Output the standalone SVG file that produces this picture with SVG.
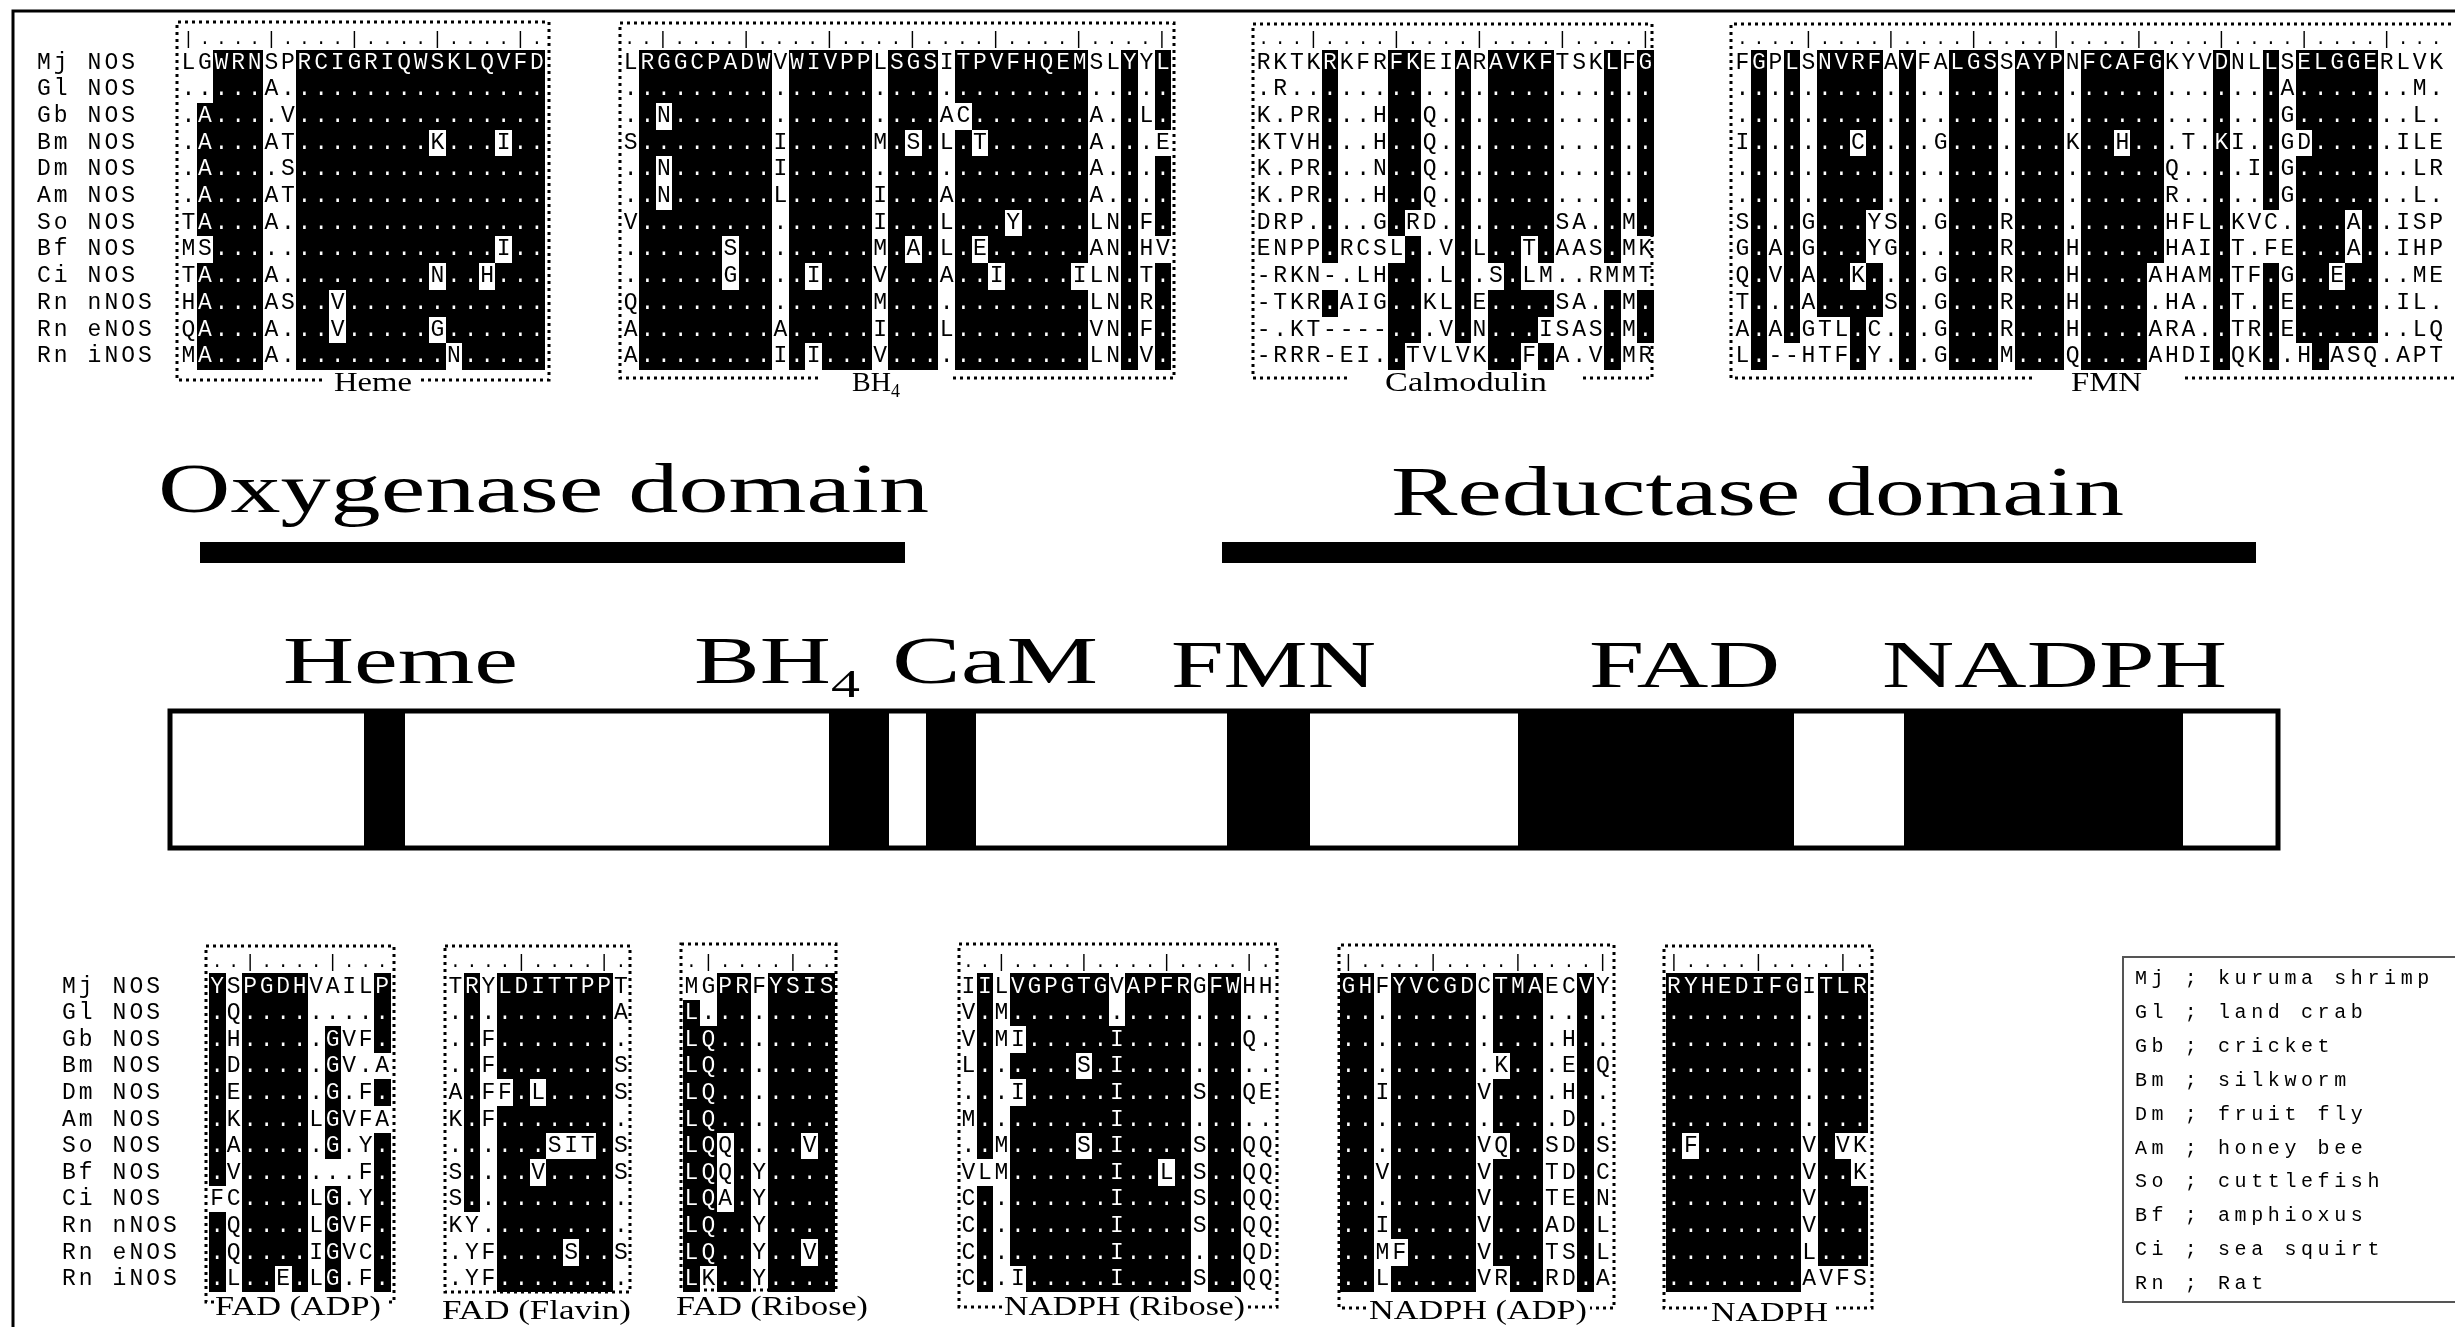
<svg xmlns="http://www.w3.org/2000/svg" width="2455" height="1327" viewBox="0 0 2455 1327">
<style>
.mono{font-family:"Liberation Mono","DejaVu Sans Mono",monospace;font-size:23px;fill:#000}
.rul{font-family:"Liberation Mono","DejaVu Sans Mono",monospace;font-size:18px;fill:#000}
.leg{font-family:"Liberation Mono","DejaVu Sans Mono",monospace;font-size:20px;fill:#000}
.serif{font-family:"Liberation Serif","DejaVu Serif",serif;fill:#000}
.dot{fill:none;stroke:#000;stroke-width:3;stroke-dasharray:3 4}
.inv rect{fill:#fff;mix-blend-mode:difference;shape-rendering:crispEdges}
.blk{fill:#000}
</style>
<rect x="0" y="0" width="2455" height="1327" fill="#fff"/>
<path d="M13,1327 V11 H2455" fill="none" stroke="#000" stroke-width="3"/>

<!-- species labels -->
<g id="labels-top">
<text class="mono" letter-spacing="3.05"><tspan x="37" y="68.5">Mj NOS</tspan><tspan x="37" y="95.2">Gl NOS</tspan><tspan x="37" y="121.9">Gb NOS</tspan><tspan x="37" y="148.6">Bm NOS</tspan><tspan x="37" y="175.3">Dm NOS</tspan><tspan x="37" y="202">Am NOS</tspan><tspan x="37" y="228.7">So NOS</tspan><tspan x="37" y="255.4">Bf NOS</tspan><tspan x="37" y="282.1">Ci NOS</tspan><tspan x="37" y="308.8">Rn nNOS</tspan><tspan x="37" y="335.5">Rn eNOS</tspan><tspan x="37" y="362.2">Rn iNOS</tspan></text>
</g>
<g id="labels-bottom">
<text class="mono" letter-spacing="3.05"><tspan x="62" y="992.5">Mj NOS</tspan><tspan x="62" y="1019.1">Gl NOS</tspan><tspan x="62" y="1045.7">Gb NOS</tspan><tspan x="62" y="1072.3">Bm NOS</tspan><tspan x="62" y="1098.9">Dm NOS</tspan><tspan x="62" y="1125.5">Am NOS</tspan><tspan x="62" y="1152.1">So NOS</tspan><tspan x="62" y="1178.7">Bf NOS</tspan><tspan x="62" y="1205.3">Ci NOS</tspan><tspan x="62" y="1231.9">Rn nNOS</tspan><tspan x="62" y="1258.5">Rn eNOS</tspan><tspan x="62" y="1285.1">Rn iNOS</tspan></text>
</g>

<!-- Heme block -->
<g id="blk-heme">
<text class="rul" x="182.9" y="44" letter-spacing="5.8">|....|....|....|....|.</text>
<text class="mono" letter-spacing="2.8"><tspan x="181.4" y="68.5">LGWRNSPRCIGRIQWSKLQVFD</tspan><tspan x="181.4" y="95.2">.....A................</tspan><tspan x="181.4" y="121.9">.A....V...............</tspan><tspan x="181.4" y="148.6">.A...AT........K...I..</tspan><tspan x="181.4" y="175.3">.A....S...............</tspan><tspan x="181.4" y="202">.A...AT...............</tspan><tspan x="181.4" y="228.7">TA...A................</tspan><tspan x="181.4" y="255.4">MS.................I..</tspan><tspan x="181.4" y="282.1">TA...A.........N..H...</tspan><tspan x="181.4" y="308.8">HA...AS..V............</tspan><tspan x="181.4" y="335.5">QA...A...V.....G......</tspan><tspan x="181.4" y="362.2">MA...A..........N.....</tspan></text>
<g class="inv" transform="translate(180,49.5) scale(16.6,26.7)">
<rect x="2" y="0" width="3" height="12"/><rect x="1" y="2" width="1" height="5"/><rect x="1" y="8" width="1" height="4"/><rect x="7" y="0" width="15" height="12"/>
<rect x="15" y="3" width="1" height="1"/><rect x="19" y="3" width="1" height="1"/><rect x="19" y="7" width="1" height="1"/><rect x="15" y="8" width="1" height="1"/><rect x="18" y="8" width="1" height="1"/><rect x="9" y="9" width="1" height="1"/><rect x="9" y="10" width="1" height="1"/><rect x="15" y="10" width="1" height="1"/><rect x="16" y="11" width="1" height="1"/>
</g>
<path class="dot" d="M322,380 H177 V22 H549 V380 H421"/>
<text class="serif" x="334" y="391" font-size="28" textLength="78" lengthAdjust="spacingAndGlyphs">Heme</text>
</g>

<!-- BH4 block -->
<g id="blk-bh4">
<text class="rul" x="624.3" y="44" letter-spacing="5.83">..|....|....|....|....|....|....|</text>
<text class="mono" letter-spacing="2.83"><tspan x="623.8" y="68.5">LRGGCPADWVWIVPPLSGSITPVFHQEMSLYYL</tspan><tspan x="623.8" y="95.2">.................................</tspan><tspan x="623.8" y="121.9">..N................AC.......A..L.</tspan><tspan x="623.8" y="148.6">S........I.....M.S.L.T......A...E</tspan><tspan x="623.8" y="175.3">..N......I..................A....</tspan><tspan x="623.8" y="202">..N......L.....I...A........A....</tspan><tspan x="623.8" y="228.7">V..............I...L...Y....LN.F.</tspan><tspan x="623.8" y="255.4">......S........M.A.L.E......AN.HV</tspan><tspan x="623.8" y="282.1">......G....I...V...A..I....ILN.T.</tspan><tspan x="623.8" y="308.8">Q..............M............LN.R.</tspan><tspan x="623.8" y="335.5">A........A.....I...L........VN.F.</tspan><tspan x="623.8" y="362.2">A........I.I...V............LN.V.</tspan></text>
<g class="inv" transform="translate(622.4,49.5) scale(16.63,26.7)">
<rect x="1" y="0" width="8" height="12"/><rect x="2" y="2" width="1" height="1"/><rect x="2" y="4" width="1" height="2"/><rect x="6" y="7" width="1" height="2"/>
<rect x="10" y="0" width="5" height="12"/><rect x="11" y="8" width="1" height="1"/><rect x="11" y="11" width="1" height="1"/>
<rect x="16" y="0" width="3" height="12"/><rect x="17" y="3" width="1" height="1"/><rect x="17" y="7" width="1" height="1"/>
<rect x="20" y="0" width="8" height="12"/><rect x="20" y="2" width="1" height="1"/><rect x="21" y="3" width="1" height="1"/><rect x="23" y="6" width="1" height="1"/><rect x="21" y="7" width="1" height="1"/><rect x="22" y="8" width="1" height="1"/><rect x="27" y="8" width="1" height="1"/>
<rect x="30" y="0" width="1" height="12"/>
<rect x="32" y="0" width="1" height="3"/><rect x="32" y="4" width="1" height="3"/><rect x="32" y="8" width="1" height="4"/>
</g>
<path class="dot" d="M818,378 H620 V23 H1174 V378 H950"/>
<text class="serif" x="852" y="391" font-size="28">BH<tspan font-size="18" dy="6">4</tspan></text>
</g>

<!-- Calmodulin block -->
<g id="blk-cam">
<text class="rul" x="1258.2" y="44" letter-spacing="5.8">...|....|....|....|....|</text>
<text class="mono" letter-spacing="2.8"><tspan x="1256.7" y="68.5">RKTKRKFRFKEIARAVKFTSKLFG</tspan><tspan x="1256.7" y="95.2">.R......................</tspan><tspan x="1256.7" y="121.9">K.PR...H..Q.............</tspan><tspan x="1256.7" y="148.6">KTVH...H..Q.............</tspan><tspan x="1256.7" y="175.3">K.PR...N..Q.............</tspan><tspan x="1256.7" y="202">K.PR...H..Q.............</tspan><tspan x="1256.7" y="228.7">DRP....G.RD.......SA..M.</tspan><tspan x="1256.7" y="255.4">ENPP.RCSL..V.L..T.AAS.MK</tspan><tspan x="1256.7" y="282.1">-RKN-.LH...L..S.LM..RMMT</tspan><tspan x="1256.7" y="308.8">-TKR.AIG..KL.E....SA..M.</tspan><tspan x="1256.7" y="335.5">-.KT----...V.N...ISAS.M.</tspan><tspan x="1256.7" y="362.2">-RRR-EI..TVLVK..F.A.V.MR</tspan></text>
<g class="inv" transform="translate(1255.3,49.5) scale(16.6,26.7)">
<rect x="4" y="0" width="1" height="8"/><rect x="4" y="9" width="1" height="1"/>
<rect x="8" y="0" width="1" height="7"/><rect x="8" y="8" width="1" height="4"/>
<rect x="9" y="0" width="1" height="6"/><rect x="9" y="7" width="1" height="4"/>
<rect x="12" y="0" width="1" height="11"/>
<rect x="14" y="0" width="4" height="7"/><rect x="14" y="7" width="2" height="1"/><rect x="17" y="7" width="1" height="1"/><rect x="15" y="8" width="1" height="1"/><rect x="14" y="9" width="4" height="1"/><rect x="14" y="10" width="3" height="1"/><rect x="14" y="11" width="2" height="1"/><rect x="17" y="11" width="1" height="1"/>
<rect x="21" y="0" width="1" height="8"/><rect x="21" y="9" width="1" height="3"/>
<rect x="23" y="0" width="1" height="7"/><rect x="23" y="9" width="1" height="2"/>
</g>
<path class="dot" d="M1347,378 H1253 V24 H1652 V378 H1583"/>
<text class="serif" x="1385" y="391" font-size="28" textLength="162" lengthAdjust="spacingAndGlyphs">Calmodulin</text>
</g>

<!-- FMN block -->
<g id="blk-fmn">
<text class="rul" x="1736.9" y="44" letter-spacing="5.72">....|....|....|....|....|....|....|....|...</text>
<text class="mono" letter-spacing="2.72"><tspan x="1735.4" y="68.5">FGPLSNVRFAVFALGSSAYPNFCAFGKYVDNLLSELGGERLVK</tspan><tspan x="1735.4" y="95.2">.................................A.......M.</tspan><tspan x="1735.4" y="121.9">.................................G.......L.</tspan><tspan x="1735.4" y="148.6">I......C....G.......K..H...T.KI..GD.....ILE</tspan><tspan x="1735.4" y="175.3">..........................Q....I.G.......LR</tspan><tspan x="1735.4" y="202">..........................R......G.......L.</tspan><tspan x="1735.4" y="228.7">S...G...YS..G...R.........HFL.KVC....A..ISP</tspan><tspan x="1735.4" y="255.4">G.A.G...YG......R...H.....HAI.T.FE...A..IHP</tspan><tspan x="1735.4" y="282.1">Q.V.A..K....G...R...H....AHAM.TF.G..E....ME</tspan><tspan x="1735.4" y="308.8">T...A....S..G...R...H.....HA..T..E......IL.</tspan><tspan x="1735.4" y="335.5">A.A.GTL.C...G...R...H....ARA..TR.E.......LQ</tspan><tspan x="1735.4" y="362.2">L.--HTF.Y...G...M...Q....AHDI.QK..H.ASQ.APT</tspan></text>
<g class="inv" transform="translate(1734,49.5) scale(16.52,26.7)">
<rect x="1" y="0" width="1" height="12"/><rect x="3" y="0" width="1" height="11"/>
<rect x="5" y="0" width="4" height="6"/><rect x="7" y="3" width="1" height="1"/><rect x="5" y="6" width="3" height="2"/><rect x="5" y="8" width="2" height="1"/><rect x="8" y="8" width="1" height="1"/><rect x="5" y="9" width="4" height="1"/><rect x="7" y="10" width="1" height="2"/>
<rect x="10" y="0" width="1" height="12"/><rect x="13" y="0" width="3" height="12"/><rect x="17" y="0" width="3" height="12"/>
<rect x="21" y="0" width="5" height="8"/><rect x="23" y="3" width="1" height="1"/><rect x="21" y="8" width="4" height="4"/>
<rect x="29" y="0" width="1" height="12"/>
<rect x="32" y="0" width="1" height="6"/><rect x="32" y="8" width="1" height="4"/>
<rect x="34" y="0" width="5" height="12"/><rect x="34" y="3" width="1" height="1"/><rect x="37" y="6" width="1" height="2"/><rect x="36" y="8" width="1" height="1"/><rect x="34" y="11" width="1" height="1"/><rect x="36" y="11" width="3" height="1"/>
</g>
<path class="dot" d="M2032,378 H1731 V24 H2470 V378 H2182"/>
<text class="serif" x="2071" y="391" font-size="28" textLength="71" lengthAdjust="spacingAndGlyphs">FMN</text>
</g>

<!-- domain titles and bars -->
<g id="domain-titles">
<text class="serif" x="158" y="512" font-size="69" textLength="771" lengthAdjust="spacingAndGlyphs">Oxygenase domain</text>
<text class="serif" x="1391" y="515" font-size="69" textLength="733" lengthAdjust="spacingAndGlyphs">Reductase domain</text>
<rect class="blk" x="200" y="542" width="705" height="21"/>
<rect class="blk" x="1222" y="542" width="1034" height="21"/>
</g>

<g id="domain-labels">
<text class="serif" x="283" y="683" font-size="68" textLength="235" lengthAdjust="spacingAndGlyphs">Heme</text>
<text class="serif" font-size="68" transform="translate(694,683) scale(1.45,1)">BH<tspan font-size="40" dy="14">4</tspan></text>
<text class="serif" x="892" y="683" font-size="68" textLength="206" lengthAdjust="spacingAndGlyphs">CaM</text>
<text class="serif" x="1171" y="687" font-size="68" textLength="205" lengthAdjust="spacingAndGlyphs">FMN</text>
<text class="serif" x="1589" y="687" font-size="68" textLength="191" lengthAdjust="spacingAndGlyphs">FAD</text>
<text class="serif" x="1882" y="687" font-size="68" textLength="345" lengthAdjust="spacingAndGlyphs">NADPH</text>
</g>

<g id="domain-bar">
<rect x="170" y="711" width="2108" height="137" fill="#fff" stroke="#000" stroke-width="5"/>
<rect class="blk" x="364" y="711" width="41" height="137"/>
<rect class="blk" x="829" y="711" width="60" height="137"/>
<rect class="blk" x="926" y="711" width="50" height="137"/>
<rect class="blk" x="1227" y="711" width="83" height="137"/>
<rect class="blk" x="1518" y="711" width="276" height="137"/>
<rect class="blk" x="1904" y="711" width="279" height="137"/>
</g>

<g id="connectors"></g>

<!-- FAD (ADP) -->
<g id="blk-fad-adp">
<text class="rul" x="211.85" y="967" letter-spacing="5.7">..|....|...</text>
<text class="mono" letter-spacing="2.7"><tspan x="210.35" y="992.5">YSPGDHVAILP</tspan><tspan x="210.35" y="1019.1">.Q.........</tspan><tspan x="210.35" y="1045.7">.H.....GVF.</tspan><tspan x="210.35" y="1072.3">.D.....GV.A</tspan><tspan x="210.35" y="1098.9">.E.....G.F.</tspan><tspan x="210.35" y="1125.5">.K....LGVFA</tspan><tspan x="210.35" y="1152.1">.A.....G.Y.</tspan><tspan x="210.35" y="1178.7">.V.......F.</tspan><tspan x="210.35" y="1205.3">FC....LG.Y.</tspan><tspan x="210.35" y="1231.9">.Q....LGVF.</tspan><tspan x="210.35" y="1258.5">.Q....IGVC.</tspan><tspan x="210.35" y="1285.1">.L..E.LG.F.</tspan></text>
<g class="inv" transform="translate(209,973) scale(16.5,26.6)">
<rect x="0" y="0" width="1" height="8"/><rect x="0" y="9" width="1" height="3"/>
<rect x="2" y="0" width="4" height="12"/><rect x="4" y="11" width="1" height="1"/>
<rect x="7" y="2" width="1" height="5"/><rect x="7" y="8" width="1" height="4"/>
<rect x="10" y="0" width="1" height="3"/><rect x="10" y="4" width="1" height="1"/><rect x="10" y="6" width="1" height="6"/>
</g>
<path class="dot" d="M214,1302 H206 V946 H394 V1302 H387"/>
<text class="serif" x="215" y="1315" font-size="27" textLength="166" lengthAdjust="spacingAndGlyphs">FAD (ADP)</text>
</g>

<!-- FAD (Flavin) -->
<g id="blk-fad-flavin">
<text class="rul" x="449.9" y="967" letter-spacing="5.75">....|....|.</text>
<text class="mono" letter-spacing="2.75"><tspan x="448.4" y="992.5">TRYLDITTPPT</tspan><tspan x="448.4" y="1019.1">..........A</tspan><tspan x="448.4" y="1045.7">..F........</tspan><tspan x="448.4" y="1072.3">..F.......S</tspan><tspan x="448.4" y="1098.9">A.FF.L....S</tspan><tspan x="448.4" y="1125.5">K.F........</tspan><tspan x="448.4" y="1152.1">......SIT.S</tspan><tspan x="448.4" y="1178.7">S....V....S</tspan><tspan x="448.4" y="1205.3">S..........</tspan><tspan x="448.4" y="1231.9">KY.........</tspan><tspan x="448.4" y="1258.5">.YF....S..S</tspan><tspan x="448.4" y="1285.1">.YF........</tspan></text>
<g class="inv" transform="translate(447,973) scale(16.55,26.6)">
<rect x="1" y="0" width="1" height="9"/>
<rect x="3" y="0" width="7" height="12"/><rect x="3" y="4" width="1" height="1"/><rect x="5" y="4" width="1" height="1"/><rect x="6" y="6" width="3" height="1"/><rect x="5" y="7" width="1" height="1"/><rect x="7" y="10" width="1" height="1"/>
</g>
<path class="dot" d="M445,946 H630 V1292 H445 Z"/>
<text class="serif" x="442" y="1319" font-size="28" textLength="189" lengthAdjust="spacingAndGlyphs">FAD (Flavin)</text>
</g>

<!-- FAD (Ribose) -->
<g id="blk-fad-ribose">
<text class="rul" x="686.05" y="967" letter-spacing="6.1">.|....|..</text>
<text class="mono" letter-spacing="3.1"><tspan x="684.55" y="992.5">MGPRFYSIS</tspan><tspan x="684.55" y="1019.1">L........</tspan><tspan x="684.55" y="1045.7">LQ.......</tspan><tspan x="684.55" y="1072.3">LQ.......</tspan><tspan x="684.55" y="1098.9">LQ.......</tspan><tspan x="684.55" y="1125.5">LQ.......</tspan><tspan x="684.55" y="1152.1">LQQ....V.</tspan><tspan x="684.55" y="1178.7">LQQ.Y....</tspan><tspan x="684.55" y="1205.3">LQA.Y....</tspan><tspan x="684.55" y="1231.9">LQ..Y....</tspan><tspan x="684.55" y="1258.5">LQ..Y..V.</tspan><tspan x="684.55" y="1285.1">LK..Y....</tspan></text>
<g class="inv" transform="translate(683,973) scale(16.9,26.6)">
<rect x="0" y="1" width="1" height="11"/><rect x="1" y="2" width="1" height="9"/>
<rect x="2" y="0" width="2" height="12"/><rect x="2" y="6" width="1" height="3"/>
<rect x="5" y="0" width="4" height="12"/><rect x="7" y="6" width="1" height="1"/><rect x="7" y="10" width="1" height="1"/>
</g>
<path class="dot" d="M681,944 H836 V1290 H681 Z"/>
<text class="serif" x="676" y="1315" font-size="28" textLength="192" lengthAdjust="spacingAndGlyphs">FAD (Ribose)</text>
</g>

<!-- NADPH (Ribose) -->
<g id="blk-nadph-ribose">
<text class="rul" x="962.9" y="967" letter-spacing="5.72">..|....|....|....|.</text>
<text class="mono" letter-spacing="2.72"><tspan x="961.4" y="992.5">IILVGPGTGVAPFRGFWHH</tspan><tspan x="961.4" y="1019.1">V.M................</tspan><tspan x="961.4" y="1045.7">V.MI.....I.......Q.</tspan><tspan x="961.4" y="1072.3">L......S.I.........</tspan><tspan x="961.4" y="1098.9">...I.....I....S..QE</tspan><tspan x="961.4" y="1125.5">M........I.........</tspan><tspan x="961.4" y="1152.1">..M....S.I....S..QQ</tspan><tspan x="961.4" y="1178.7">VLM......I..L.S..QQ</tspan><tspan x="961.4" y="1205.3">C........I....S..QQ</tspan><tspan x="961.4" y="1231.9">C........I....S..QQ</tspan><tspan x="961.4" y="1258.5">C........I.......QD</tspan><tspan x="961.4" y="1285.1">C..I.....I....S..QQ</tspan></text>
<g class="inv" transform="translate(960,973) scale(16.52,26.6)">
<rect x="1" y="0" width="1" height="7"/><rect x="1" y="8" width="1" height="4"/>
<rect x="3" y="0" width="6" height="12"/><rect x="3" y="2" width="1" height="1"/><rect x="3" y="4" width="1" height="1"/><rect x="3" y="11" width="1" height="1"/><rect x="7" y="3" width="1" height="1"/><rect x="7" y="6" width="1" height="1"/>
<rect x="9" y="2" width="1" height="10"/>
<rect x="10" y="0" width="4" height="12"/><rect x="12" y="7" width="1" height="1"/>
<rect x="15" y="0" width="2" height="12"/>
</g>
<path class="dot" d="M1002,1307 H959 V944 H1277 V1307 H1248"/>
<text class="serif" x="1004" y="1315" font-size="28" textLength="241" lengthAdjust="spacingAndGlyphs">NADPH (Ribose)</text>
</g>

<!-- NADPH (ADP) -->
<g id="blk-nadph-adp">
<text class="rul" x="1343.1" y="967" letter-spacing="6.15">|....|....|....|</text>
<text class="mono" letter-spacing="3.15"><tspan x="1341.6" y="992.5">GHFYVCGDCTMAECVY</tspan><tspan x="1341.6" y="1019.1">................</tspan><tspan x="1341.6" y="1045.7">.............H..</tspan><tspan x="1341.6" y="1072.3">.........K...E.Q</tspan><tspan x="1341.6" y="1098.9">..I.....V....H..</tspan><tspan x="1341.6" y="1125.5">.............D..</tspan><tspan x="1341.6" y="1152.1">........VQ..SD.S</tspan><tspan x="1341.6" y="1178.7">..V.....V...TD.C</tspan><tspan x="1341.6" y="1205.3">........V...TE.N</tspan><tspan x="1341.6" y="1231.9">..I.....V...AD.L</tspan><tspan x="1341.6" y="1258.5">..MF....V...TS.L</tspan><tspan x="1341.6" y="1285.1">..L.....VR..RD.A</tspan></text>
<g class="inv" transform="translate(1340,973) scale(16.95,26.6)">
<rect x="0" y="0" width="2" height="12"/>
<rect x="3" y="0" width="5" height="12"/><rect x="3" y="10" width="1" height="1"/>
<rect x="9" y="0" width="3" height="12"/><rect x="9" y="3" width="1" height="1"/><rect x="9" y="6" width="1" height="1"/><rect x="9" y="11" width="1" height="1"/>
<rect x="14" y="0" width="1" height="12"/>
</g>
<path class="dot" d="M1366,1308 H1339 V945 H1614 V1308 H1590"/>
<text class="serif" x="1369" y="1319" font-size="28" textLength="218" lengthAdjust="spacingAndGlyphs">NADPH (ADP)</text>
</g>

<!-- NADPH -->
<g id="blk-nadph">
<text class="rul" x="1668.55" y="967" letter-spacing="6.1">|....|....|.</text>
<text class="mono" letter-spacing="3.1"><tspan x="1667.05" y="992.5">RYHEDIFGITLR</tspan><tspan x="1667.05" y="1019.1">............</tspan><tspan x="1667.05" y="1045.7">............</tspan><tspan x="1667.05" y="1072.3">............</tspan><tspan x="1667.05" y="1098.9">............</tspan><tspan x="1667.05" y="1125.5">............</tspan><tspan x="1667.05" y="1152.1">.F......V.VK</tspan><tspan x="1667.05" y="1178.7">........V..K</tspan><tspan x="1667.05" y="1205.3">........V...</tspan><tspan x="1667.05" y="1231.9">........V...</tspan><tspan x="1667.05" y="1258.5">........L...</tspan><tspan x="1667.05" y="1285.1">........AVFS</tspan></text>
<g class="inv" transform="translate(1665.5,973) scale(16.9,26.6)">
<rect x="0" y="0" width="8" height="12"/><rect x="1" y="6" width="1" height="1"/>
<rect x="9" y="0" width="3" height="11"/><rect x="10" y="6" width="2" height="1"/><rect x="11" y="7" width="1" height="1"/>
</g>
<path class="dot" d="M1707,1308 H1664 V946 H1872 V1308 H1833"/>
<text class="serif" x="1711" y="1321" font-size="28" textLength="117" lengthAdjust="spacingAndGlyphs">NADPH</text>
</g>

<!-- legend -->
<g id="legend">
<rect x="2123" y="957" width="400" height="345" fill="none" stroke="#555" stroke-width="2"/>
<text class="leg" letter-spacing="4.6"><tspan x="2135" y="984">Mj ; kuruma shrimp</tspan><tspan x="2135" y="1017.9">Gl ; land crab</tspan><tspan x="2135" y="1051.8">Gb ; cricket</tspan><tspan x="2135" y="1085.7">Bm ; silkworm</tspan><tspan x="2135" y="1119.6">Dm ; fruit fly</tspan><tspan x="2135" y="1153.5">Am ; honey bee</tspan><tspan x="2135" y="1187.4">So ; cuttlefish</tspan><tspan x="2135" y="1221.3">Bf ; amphioxus</tspan><tspan x="2135" y="1255.2">Ci ; sea squirt</tspan><tspan x="2135" y="1289.1">Rn ; Rat</tspan></text>
</g>
</svg>
